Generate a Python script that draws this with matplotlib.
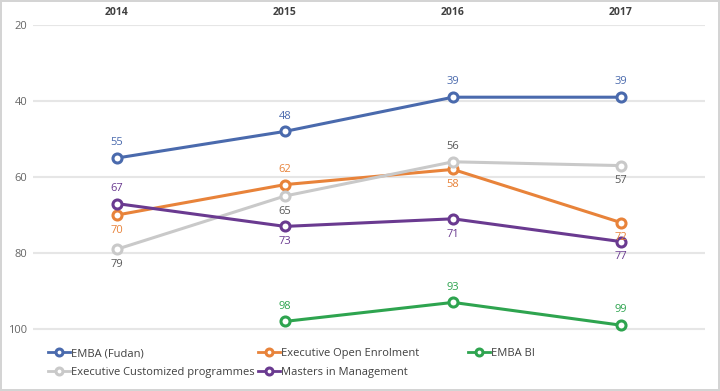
import matplotlib
matplotlib.use("Agg")
import matplotlib.pyplot as plt
import numpy as np

plt.rcParams['font.family'] = ['Open Sans', 'DejaVu Sans']

years = ["2014", "2015", "2016", "2017"]
emba_fudan = [55, 48, 39, 39]
exec_open = [70, 62, 58, 72]
emba_bi = [None, 98, 93, 99]
exec_custom = [79, 65, 56, 57]
masters = [67, 73, 71, 77]

series = [
    ("EMBA (Fudan)", emba_fudan, "#4a6aad", "#4a6aad", ["above"] * 4),
    ("Executive Open Enrolment", exec_open, "#e8833a", "#e8833a", ["below", "above", "below", "below"]),
    ("EMBA BI", emba_bi, "#2ea44f", "#2ea44f", ["above"] * 4),
    ("Executive Customized programmes", exec_custom, "#c9c9c9", "#595959", ["below", "below", "above", "below"]),
    ("Masters in Management", masters, "#6a3a90", "#6a3a90", ["above", "below", "below", "below"]),
]

fig = plt.figure(figsize=(7.2, 3.91), dpi=100)
fig.patch.set_edgecolor("#d4d4d4")
fig.patch.set_linewidth(1.5)
ax = fig.add_axes([33/720, 1 - 336.6/391, (705-33)/720, (336.6-25)/391])

x = np.arange(len(years))
handles = {}
for name, vals, col, tcol, pos in series:
    xs = [xi for xi, v in zip(x, vals) if v is not None]
    ys = [v for v in vals if v is not None]
    h, = ax.plot(xs, ys, color=col, lw=2.2, marker='o', ms=6.5, mfc='white', mec=col, mew=2.2,
                 label=name, zorder=3, clip_on=False)
    handles[name] = h
    for xi, v, p in zip(x, vals, pos):
        if v is None:
            continue
        off = 11 if p == "above" else -11
        ax.annotate(str(v), (xi, v), xytext=(0, off), textcoords='offset points',
                    ha='center', va='center', fontsize=8, color=tcol, zorder=5)

ax.set_xlim(-0.5, 3.5)
ax.set_ylim(102, 20)
ax.set_yticks([20, 40, 60, 80, 100])
ax.set_xticks(x)
ax.set_xticklabels(years, fontsize=7.5, fontweight='bold', color='#404040')
ax.xaxis.tick_top()
ax.tick_params(axis='x', length=0, pad=5)
ax.tick_params(axis='y', length=0, labelsize=8, labelcolor='#666666', pad=4)
ax.grid(axis='y', color='#e6e6e6', lw=1.5, zorder=0)
ax.set_axisbelow(True)
for s in ax.spines.values():
    s.set_visible(False)

columns = [
    (48, ["EMBA (Fudan)", "Executive Customized programmes"]),
    (258, ["Executive Open Enrolment", "Masters in Management"]),
    (468, ["EMBA BI"]),
]
for xpx, names in columns:
    leg = fig.legend([handles[n] for n in names], names, loc='upper left',
                     bbox_to_anchor=(xpx / 720, 1 - 348 / 391), ncol=1,
                     frameon=False, fontsize=8, handlelength=2.0, handletextpad=0.1,
                     labelspacing=0.75, borderaxespad=0, borderpad=0)
    for t in leg.get_texts():
        t.set_color('#404040')
    for lh in leg.legend_handles:
        lh.set_markersize(5)
        lh.set_linewidth(2)

fig.savefig("out.png", dpi=100)
